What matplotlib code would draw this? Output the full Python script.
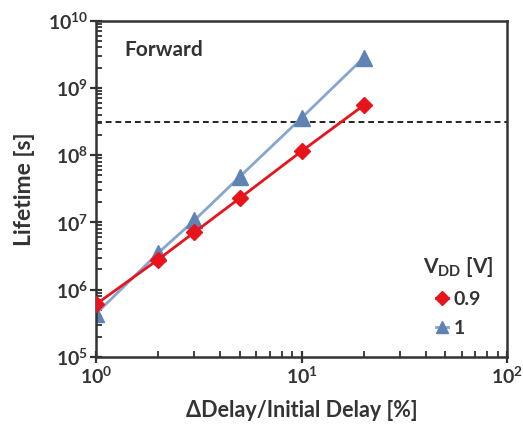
import numpy as np
import matplotlib.pyplot as plt
from matplotlib.ticker import LogLocator, NullFormatter

plt.rcParams['font.family'] = ['Lato', 'DejaVu Sans']
plt.rcParams['font.weight'] = 'bold'
plt.rcParams['mathtext.default'] = 'regular'

# data
delay_pct = [1, 2, 3, 5, 10, 20]
life_09 = [6.1e5, 2.8e6, 7.1e6, 2.3e7, 1.15e8, 5.5e8]
life_10 = [4.4e5, 3.5e6, 1.07e7, 4.8e7, 3.6e8, 2.8e9]
ten_years = 3.15e8

fig = plt.figure(figsize=(5.23, 4.3), dpi=100)
ax = fig.add_axes([0.184, 0.170, 0.786, 0.782])

ax.axhline(ten_years, color='#222222', linestyle=(0, (3, 2)), linewidth=1.4, zorder=1)

l1, = ax.plot(delay_pct, life_10, color='#86a6cf', linewidth=2, marker='^',
              markersize=11, markerfacecolor='#5f84b4', markeredgecolor='#5f84b4',
              label='1', zorder=2)
l09, = ax.plot(delay_pct, life_09, color='#e8141c', linewidth=2, marker='D',
               markersize=8.5, markerfacecolor='#e8141c', markeredgecolor='#e8141c',
               label='0.9', zorder=3)

ax.set_xscale('log')
ax.set_yscale('log')
ax.set_xlim(1, 100)
ax.set_ylim(1e5, 1e10)

ax.yaxis.set_minor_locator(LogLocator(base=10, subs=np.arange(2, 10), numticks=20))
ax.xaxis.set_minor_locator(LogLocator(base=10, subs=np.arange(2, 10), numticks=20))
ax.yaxis.set_minor_formatter(NullFormatter())
ax.xaxis.set_minor_formatter(NullFormatter())

for s in ax.spines.values():
    s.set_linewidth(1.8)
    s.set_color('#333333')

ax.tick_params(which='major', direction='inout', length=8, width=1.6,
               labelsize=14, colors='#333333', pad=2)
ax.tick_params(which='minor', direction='in', length=4, width=1.3, colors='#333333')

ax.set_xlabel('ΔDelay/Initial Delay [%]', fontsize=15.5, fontweight='bold',
              color='#333333', labelpad=10)
ax.set_ylabel('Lifetime [s]', fontsize=16.5, fontweight='bold', color='#333333', labelpad=9)

ax.text(0.068, 0.913, 'Forward', transform=ax.transAxes, fontsize=15,
        fontweight='bold', color='#333333', va='center', ha='left')

leg = ax.legend(handles=[l09, l1], title='V$_{DD}$ [V]', loc='lower right',
                bbox_to_anchor=(1.0, 0.02), frameon=False, fontsize=14,
                title_fontsize=15, handlelength=0.6, handletextpad=0.3,
                labelspacing=0.6, markerscale=0.8, borderaxespad=0.3)
leg.get_title().set_fontweight('bold')
leg.get_title().set_color('#333333')
for t in leg.get_texts():
    t.set_color('#333333')
    t.set_fontweight('bold')

plt.savefig('out.png', dpi=100)
